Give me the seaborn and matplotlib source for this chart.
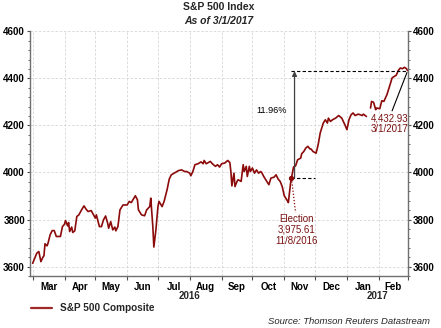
import numpy as np
import pandas as pd
import matplotlib
matplotlib.use("Agg")
import matplotlib.pyplot as plt
import matplotlib.dates as mdates
import matplotlib.transforms as mtransforms
from matplotlib.ticker import MultipleLocator, FixedLocator
from matplotlib.lines import Line2D
import seaborn as sns

# ---------------- data ----------------
start_date = "2016-03-01"
day_offsets = [
    0, 4, 6, 8, 10, 11, 12, 14, 15, 17, 19, 21, 23, 27, 29, 31, 32, 34, 35, 36,
    38, 39, 41, 43, 45, 48, 50, 52, 54, 57, 61, 62, 65, 67, 69, 71, 73, 74, 76, 78,
    80, 81, 83, 85, 88, 92, 94, 96, 100, 102, 103, 106, 109, 111, 114, 115, 117, 118, 120, 122,
    123, 126, 128, 131, 133, 135, 139, 142, 145, 148, 150, 153, 154, 156, 158, 161, 164, 166, 167, 169,
    171, 173, 175, 178, 180, 182, 184, 187, 190, 192, 193, 194, 196, 197, 199, 200, 203, 205, 206, 208,
    209, 211, 212, 214, 216, 218, 220, 222, 223, 225, 227, 230, 232, 235, 237, 239, 241, 243, 245, 248,
    249, 251, 252, 254, 256, 258, 261, 262, 264, 266, 268, 270, 271, 273, 276, 278, 280, 282, 283, 285,
    287, 288, 290, 292, 295, 298, 301, 304, 306, 308, 310, 312, 314, 317, 321, 322, 325, 327, 329, 330,
    332, 334, 335, 338, 340, 342, 345, 348, 350, 352, 354, 356, 358, 360, 362, 364, 365,
]
index_values = [
    3614, 3657, 3664, 3621, 3640, 3646, 3697, 3688, 3700, 3735, 3753, 3753, 3728, 3728, 3770, 3780, 3796, 3773, 3787, 3749,
    3768, 3745, 3752, 3813, 3820, 3844, 3858, 3844, 3834, 3838, 3806, 3820, 3770, 3770, 3799, 3815, 3785, 3763, 3791, 3756,
    3768, 3752, 3770, 3841, 3862, 3862, 3877, 3872, 3901, 3884, 3841, 3820, 3816, 3841, 3855, 3891, 3770, 3683, 3756, 3855,
    3877, 3855, 3877, 3929, 3972, 3990, 4000, 4008, 4011, 4004, 4004, 3997, 3986, 4004, 4033, 4037, 4045, 4037, 4051, 4037,
    4042, 4047, 4037, 4026, 4033, 4023, 4037, 4040, 4051, 4042, 4004, 3943, 3997, 3940, 3962, 3969, 3962, 4033, 4004, 4026,
    3983, 4026, 4004, 4019, 3997, 4011, 3997, 4004, 4000, 3983, 3969, 3948, 3976, 3980, 3990, 3972, 3962, 3940, 3901, 3880,
    3872, 3950, 3975.61, 4023, 4028, 4054, 4061, 4080, 4089, 4104, 4111, 4100, 4100, 4089, 4082, 4118, 4168, 4196, 4210, 4224,
    4210, 4231, 4217, 4224, 4231, 4242, 4231, 4203, 4182, 4224, 4245, 4253, 4242, 4248, 4242, 4248, 4238, np.nan, 4274, 4302,
    4298, 4267, 4274, 4271, 4305, 4302, 4331, 4373, 4402, 4408, 4413, 4433, 4444, 4441, 4447, 4441, 4432.93,
]
series_name = "S&P 500 Composite"
election_date = "2016-11-08"
election_value = 3975.61
end_date = "2017-03-01"
end_value = 4432.93
pct_change_label = "11.96%"
election_label = "Election\n3,975.61\n11/8/2016"
end_label = "4,432.93\n3/1/2017"
year_labels = ["2016", "2017"]
y_ticks = [3600, 3800, 4000, 4200, 4400, 4600]

# ---------------- build frame ----------------
dates = pd.to_datetime(start_date) + pd.to_timedelta(day_offsets, unit="D")
df = pd.DataFrame({"date": dates, "value": index_values})
df["segment"] = df["value"].isna().cumsum()
df = df.dropna().reset_index(drop=True)

sns.set_theme(style="ticks")
plt.rcParams["font.family"] = ["Liberation Sans", "DejaVu Sans"]

LINE = "#8b0a0a"
TXT = "#7a1212"
FS = 7.0

fig = plt.figure(figsize=(4.41, 3.28), dpi=100)
ax = fig.add_axes([30 / 441, 1 - 276 / 328, 377.5 / 441, (276 - 31.3) / 328])

sns.lineplot(data=df, x="date", y="value", units="segment", estimator=None,
             color=LINE, lw=1.2, ax=ax, legend=False)

t0 = pd.Timestamp(start_date)
ax.set_xlim(t0 - pd.Timedelta(days=2.6), pd.Timestamp(end_date))
ax.set_ylim(3560, 4600)
ax.set_xlabel("")
ax.set_ylabel("")

# y axis: both sides
ax.yaxis.set_major_locator(FixedLocator(y_ticks))
ax.yaxis.set_minor_locator(MultipleLocator(40))
ax.tick_params(axis="y", which="both", left=True, right=True, labelleft=True,
               labelright=True, direction="out", colors="#505050", labelcolor="black",
               labelsize=FS)
ax.tick_params(axis="y", which="major", length=2.5, width=0.8, pad=1.2)
ax.tick_params(axis="y", which="minor", length=1.5, width=0.6)
for lab in ax.get_yticklabels(which="both"):
    lab.set_fontweight("bold")

# x axis: ticks at month boundaries, labels mid-month
bounds = pd.date_range("2016-03-01", "2017-03-01", freq="MS")
mids = [b + (bounds[i + 1] - b) / 2 for i, b in enumerate(bounds[:-1])]
ax.xaxis.set_major_locator(FixedLocator(mdates.date2num(bounds)))
ax.xaxis.set_minor_locator(FixedLocator(mdates.date2num(mids)))
ax.xaxis.set_major_formatter(matplotlib.ticker.NullFormatter())
ax.xaxis.set_minor_formatter(mdates.DateFormatter("%b"))
ax.tick_params(axis="x", which="major", length=3, width=0.8, colors="#505050", direction="out")
ax.tick_params(axis="x", which="minor", length=0, pad=4.0, labelsize=FS, labelcolor="black")
for lab in ax.get_xticklabels(which="minor"):
    lab.set_fontweight("bold")

# year labels
trans = mtransforms.blended_transform_factory(ax.transData, ax.transAxes)
y_mid1 = mdates.date2num(pd.Timestamp("2016-03-01")) / 2 + mdates.date2num(pd.Timestamp("2017-01-01")) / 2
y_mid2 = mdates.date2num(pd.Timestamp("2017-01-01")) / 2 + mdates.date2num(pd.Timestamp("2017-03-01")) / 2
for xm, yl in zip([y_mid1, y_mid2], year_labels):
    ax.text(xm, -0.083, yl, transform=trans, ha="center", va="center",
            fontsize=FS, fontweight="bold")

# grid
ax.grid(True, which="major", color="#d6d6d6", linestyle=(0, (3, 2)), linewidth=0.6)
ax.set_axisbelow(True)

# spines
ax.spines["top"].set_visible(False)
for s in ["left", "right", "bottom"]:
    ax.spines[s].set_color("#707070")
    ax.spines[s].set_linewidth(1.0)

# ---------------- annotations ----------------
ed = pd.Timestamp(election_date)
enddt = pd.Timestamp(end_date)
ax.plot([ed, enddt], [end_value, end_value], color="black", lw=0.8, ls=(0, (3, 2)))
ax.plot([ed, pd.Timestamp("2016-12-01")], [election_value, election_value],
        color="black", lw=0.8, ls=(0, (3, 2)))
ax.plot([ed], [election_value], marker="o", ms=2.8, color=LINE)
ax.annotate("", xy=(ed + pd.Timedelta(days=3), end_value - 2),
            xytext=(ed + pd.Timedelta(days=3), election_value),
            arrowprops=dict(arrowstyle="-|>", color="#404040", lw=0.9,
                            mutation_scale=7, shrinkA=0, shrinkB=0))
ax.text(pd.Timestamp("2016-10-20"), 4264, pct_change_label, ha="center", va="center",
        fontsize=6.6, color="black")
ax.plot([ed, ed + pd.Timedelta(days=4)], [election_value, 3830], color=LINE,
        lw=0.9, ls=(0, (1, 1.5)))
ax.text(ed + pd.Timedelta(days=5), 3825, election_label, ha="center", va="top",
        fontsize=FS, color=TXT, linespacing=1.15)
ax.text(pd.Timestamp("2017-01-24"), 4252, end_label, ha="left", va="top",
        fontsize=FS, color=TXT, linespacing=1.05)
ax.plot([pd.Timestamp("2017-02-14"), pd.Timestamp("2017-02-28 12:00")], [4262, 4425],
        color="black", lw=0.8)

# ---------------- titles, legend, source ----------------
fig.text(218.75 / 441, 1 - 7.5 / 328, "S&P 500 Index", ha="center", va="center",
         fontsize=7.5, fontweight="bold")
fig.text(218.75 / 441, 1 - 20.7 / 328, "As of 3/1/2017", ha="center", va="center",
         fontsize=7.5, fontweight="bold", style="italic")

handle = Line2D([], [], color="#a02828", lw=1.6)
fig.legend([handle], [series_name], loc="center left", bbox_to_anchor=(31 / 441, 1 - 308.3 / 328),
           frameon=False, borderaxespad=0, borderpad=0, handlelength=2.1,
           handletextpad=0.8, prop={"size": 7.2, "weight": "bold"})

fig.text(430 / 441, 1 - 321.7 / 328, "Source: Thomson Reuters Datastream", ha="right",
         va="center", fontsize=6.8, style="italic")

fig.savefig("out.png", dpi=100)
